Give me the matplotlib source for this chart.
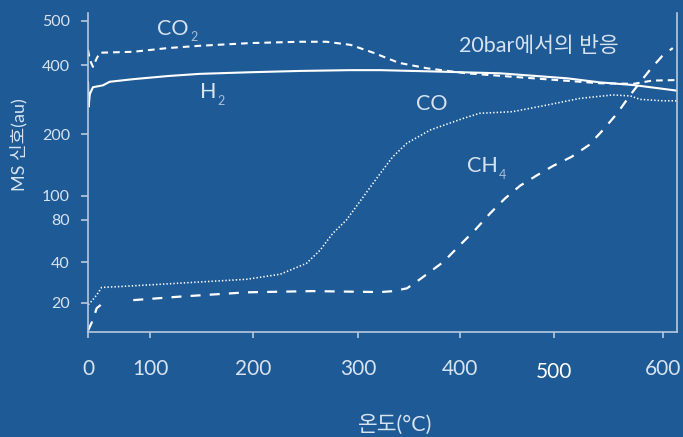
import numpy as np
import matplotlib
matplotlib.use("Agg")
import matplotlib.pyplot as plt
from matplotlib.ticker import NullLocator

# --- データ ---
h2_temp = [0, 1, 3, 8, 24, 35, 73, 117, 148, 197, 245, 293, 322, 374, 443, 512, 542, 573, 613]
h2_val = [339, 264, 300, 321, 327, 339, 348, 359, 367, 373, 378, 381, 381, 376, 369, 351, 337, 328, 310]

co2_temp = [0, 3, 8, 14, 19, 73, 117, 148, 197, 245, 270, 293, 315, 340, 368, 407, 478, 542, 573, 590, 613]
co2_val = [432, 411, 394, 414, 426, 428, 436, 441, 447, 450, 450, 443, 426, 405, 388, 369, 351, 334, 332, 343, 345]

co_temp = [0, 2, 14, 22, 46, 116, 194, 226, 251, 264, 276, 289, 322, 334, 348, 371, 404, 421, 456,
           492, 524, 554, 570, 579, 600, 613]
co_val = [19.5, 19.6, 22.8, 26.0, 26.3, 27.6, 29.9, 32.6, 39.3, 48.9, 64.3, 80, 129, 155, 181, 209, 235,
          247, 251, 268, 287, 297, 294, 284, 280, 280]

ch4_temp = [0, 8, 14, 25, 49, 73, 129, 194, 257, 322, 335, 348, 361, 384, 400, 416, 432, 448, 464,
            482, 499, 516, 532, 545, 558, 570, 577, 588, 600, 609]
ch4_val = [12.4, 14.9, 18.2, 20.0, np.nan, 20.9, 22.2, 23.9, 24.4, 24.0, 24.4, 25.6, 30.0, 40.4, 53.1,
           67.9, 85.0, 97.6, 112, 126, 140, 155, 177, 209, 247, 297, 328, 382, 421, 436]

# 軸目盛り (元の図は目盛り間隔が不均一なので、位置をピクセル単位で持つ)
xtick_vals = [0, 100, 200, 300, 400, 500, 600]
xtick_labels = ["0", "100", "200", "300", "400", "500", "600"]
xtick_px = [0, 62, 165, 270, 372, 466, 575]

ytick_vals = [20, 40, 80, 100, 200, 400, 500]
ytick_labels = ["20", "40", "80", "100", "200", "400", "500"]
ytick_px = [0, 40.4, 82.7, 107, 168.4, 237.4, 282]

BG = "#1e5a96"
TXT = "#d8e3f0"
SUB = "#a9bed8"
SPINE = "#b7c9de"
FONT = ["Lato", "Noto Sans CJK KR", "DejaVu Sans"]

plt.rcParams["font.family"] = FONT
plt.rcParams["lines.scale_dashes"] = False


def piecewise(xk, yk):
    xk = np.asarray(xk, float)
    yk = np.asarray(yk, float)

    def f(x):
        x = np.asarray(x, float)
        out = np.interp(x, xk, yk)
        lo = yk[0] + (x - xk[0]) * (yk[1] - yk[0]) / (xk[1] - xk[0])
        hi = yk[-1] + (x - xk[-1]) * (yk[-1] - yk[-2]) / (xk[-1] - xk[-2])
        out = np.where(x < xk[0], lo, out)
        out = np.where(x > xk[-1], hi, out)
        return out
    return f


x_fwd = piecewise(xtick_vals, xtick_px)
x_inv = piecewise(xtick_px, xtick_vals)
ylog = np.log10(ytick_vals)
y_fwd_l = piecewise(ylog, ytick_px)
y_inv_l = piecewise(ytick_px, ylog)


def y_fwd(v):
    v = np.asarray(v, float)
    return y_fwd_l(np.log10(np.clip(v, 1e-6, None)))


def y_inv(p):
    return 10 ** y_inv_l(p)


W, H = 683, 437
fig = plt.figure(figsize=(W / 100, H / 100), dpi=100, facecolor=BG)
ax = fig.add_axes([88 / W, (H - 332) / H, (677 - 88) / W, (332 - 13) / H])
ax.set_facecolor(BG)

ax.set_xscale("function", functions=(x_fwd, x_inv))
ax.set_yscale("function", functions=(y_fwd, y_inv))

# --- 曲線 ---
ax.plot(h2_temp, h2_val, color="white", lw=1.5, solid_capstyle="round")
ax.plot(co2_temp, co2_val, color="white", lw=1.5, dashes=(4.8, 3.6))
ax.plot(co_temp, co_val, color="white", lw=1.15, dashes=(1.0, 1.5))
ax.plot(ch4_temp, ch4_val, color="white", lw=1.6, dashes=(7.2, 6.6))

ax.set_xlim(0, x_inv(589))
ax.set_ylim(y_inv(-29.3), y_inv(289.7))

# --- 軸の見た目 ---
for side in ["left", "right", "bottom"]:
    ax.spines[side].set_color(SPINE)
    ax.spines[side].set_linewidth(1.2)
ax.spines["top"].set_visible(False)

ax.set_yticks(ytick_vals)
ax.set_yticklabels(ytick_labels)
ax.yaxis.set_minor_locator(NullLocator())
ax.set_xticks(xtick_vals)
ax.set_xticklabels([])
ax.xaxis.set_minor_locator(NullLocator())
ax.tick_params(axis="y", length=5, width=1.2, color=SPINE, labelcolor=TXT, labelsize=11.5, pad=8)
ax.tick_params(axis="x", length=4.5, width=1.2, color=SPINE)

xform = ax.get_xaxis_transform()
for v, lab in zip(xtick_vals, xtick_labels):
    dy = -0.115 if lab != "500" else -0.125
    ax.text(v, dy, lab, transform=xform, ha="center", va="center", fontsize=15,
            color=TXT if lab != "500" else "white")


def ftext(px, py, s, **kw):
    fig.text(px / W, 1 - py / H, s, **kw)


# --- ラベル ---
ftext(157, 35, "CO", fontsize=15.5, color=TXT, ha="left", va="baseline")
ftext(190, 41, "2", fontsize=9, color=SUB, ha="left", va="baseline")
ftext(200, 98, "H", fontsize=15.5, color=TXT, ha="left", va="baseline")
ftext(217, 105, "2", fontsize=9, color=SUB, ha="left", va="baseline")
ftext(416, 110, "CO", fontsize=15.5, color=TXT, ha="left", va="baseline")
ftext(467, 172, "CH", fontsize=15.5, color=TXT, ha="left", va="baseline")
ftext(499, 179, "4", fontsize=9, color=SUB, ha="left", va="baseline")
ftext(459, 52, "20bar에서의 반응", fontsize=15.5, color=TXT, ha="left", va="baseline")

ftext(395, 425, "온도(°C)", fontsize=15.5, color=TXT, ha="center", va="center")
ftext(19, 145, "MS 신호(au)", fontsize=13, color=TXT, ha="center", va="center", rotation=90)

fig.savefig("out.png", dpi=100, facecolor=BG)
